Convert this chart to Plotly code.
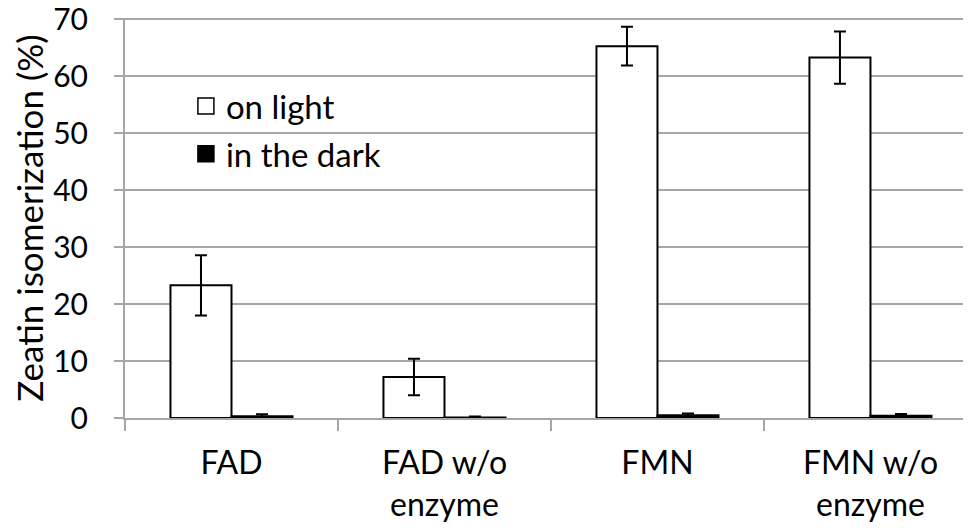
import plotly.graph_objects as go

categories = ["FAD", "FAD w/o<br>enzyme", "FMN", "FMN w/o<br>enzyme"]
light_values = [23.3, 7.2, 65.3, 63.3]
light_errors = [5.3, 3.2, 3.4, 4.6]
dark_values = [0.3, 0.1, 0.5, 0.4]
dark_errors = [0.35, 0.15, 0.3, 0.3]
series_names = ["on light", "in the dark"]
y_ticks = [0, 10, 20, 30, 40, 50, 60, 70]

FONT = "Lato"
GRID = "#A6A6A6"

fig = go.Figure()
fig.add_trace(go.Bar(
    x=categories, y=light_values, name=series_names[0],
    marker=dict(color="white", line=dict(color="black", width=2)),
    error_y=dict(type="data", array=light_errors, color="black", thickness=2, width=6),
    showlegend=False,
))
fig.add_trace(go.Bar(
    x=categories, y=dark_values, name=series_names[1],
    marker=dict(color="black", line=dict(color="black", width=2)),
    error_y=dict(type="data", array=dark_errors, color="black", thickness=2, width=6),
    showlegend=False,
))
# legend-only entries (larger square symbols)
fig.add_trace(go.Scatter(
    x=[None], y=[None], mode="markers", name=series_names[0],
    marker=dict(symbol="square", size=18, color="white", line=dict(color="black", width=1.5)),
    legendgroup="a",
))
fig.add_trace(go.Scatter(
    x=[None], y=[None], mode="markers", name=series_names[1],
    marker=dict(symbol="square", size=18, color="black", line=dict(color="black", width=1.5)),
    legendgroup="b",
))

fig.update_layout(
    width=963, height=520,
    margin=dict(l=117, r=0, t=10, b=110),
    paper_bgcolor="white", plot_bgcolor="white",
    font=dict(family=FONT, size=30, color="black"),
    barmode="group", bargap=0.427, bargroupgap=0,
    legend=dict(
        x=0.072, y=0.85, xanchor="left", yanchor="top",
        bgcolor="rgba(0,0,0,0)", font=dict(family=FONT, size=33, color="black"),
        tracegroupgap=2, itemclick=False,
    ),
    xaxis=dict(
        type="category", range=[-0.5, 3.472], automargin=False,
        showline=True, linecolor=GRID, linewidth=2,
        ticks="outside", tickson="boundaries", ticklen=11, tickcolor=GRID, tickwidth=2,
        showgrid=False, tickfont=dict(size=32), ticklabelstandoff=16,
    ),
    yaxis=dict(
        range=[0, 70.25], tickvals=y_ticks, automargin=False,
        showline=True, linecolor=GRID, linewidth=2,
        ticks="outside", ticklen=9, tickcolor=GRID, tickwidth=2,
        showgrid=True, gridcolor=GRID, gridwidth=2,
        zeroline=False, tickfont=dict(size=30), ticklabelstandoff=20,
        ticklabeloverflow="allow",
        title=dict(text="Zeatin isomerization (%)", font=dict(size=35), standoff=4),
    ),
)

fig.write_html("out.html")
